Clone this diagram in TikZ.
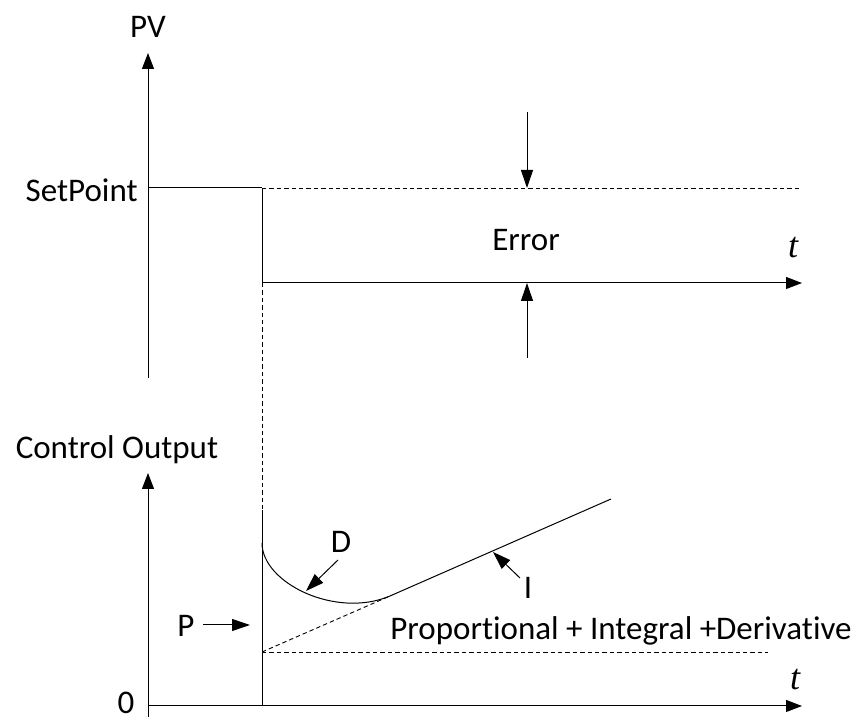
\documentclass[tikz,border=0pt]{standalone}
\usepackage{fontspec}
\setmainfont{Carlito}[Ligatures=NoCommon]
\newfontfamily\tfont{Liberation Serif}
\usetikzlibrary{arrows.meta}
\begin{document}
\begin{tikzpicture}[x=0.5pt,y=-0.5pt,
  ax/.style={line width=0.5pt,-{Triangle[length=8pt,width=6pt]}},
  ln/.style={line width=0.5pt},
  dsh/.style={line width=0.45pt,dash pattern=on 2.2pt off 1.5pt},
  lbl/.style={inner sep=0pt,anchor=base,font=\fontsize{16.5}{18}\selectfont},
  tl/.style={inner sep=0pt,anchor=base,font=\fontsize{18}{20}\selectfont\tfont\itshape},
  ptr/.style={line width=0.5pt,-{Triangle[length=9pt,width=6pt]}}]
\useasboundingbox (0,0) rectangle (859,727);
% upper axis
\coordinate (pvb) at (148,378);
\coordinate (pvt) at (148,53);
\draw[ax] (pvb) -- (pvt);
\node[lbl] (pv) at (148,38) {PV};
\node[lbl,anchor=base east] (sp) at (138,202) {SetPoint};
\coordinate (sp0) at (148,188);
\coordinate (sp1) at (262,188);
\coordinate (sp2) at (802,188);
\draw[ln] (sp0) -- (sp1);
\draw[dsh] (sp1) -- (sp2);
\coordinate (e0) at (262,283);
\coordinate (e1) at (802,283);
\draw[ax] (e0) -- (e1);
\draw[ln] (sp1) -- (e0);
\coordinate (v1) at (262,510);
\coordinate (v2) at (262,706);
\draw[dsh] (e0) -- (v1);
\draw[ln] (v1) -- (v2);
\node[tl] (t1) at (793,258) {t};
% error arrows
\coordinate (ea0) at (527,112);
\coordinate (ea1) at (527,188);
\draw[ptr] (ea0) -- (ea1);
\coordinate (eb0) at (527,358);
\coordinate (eb1) at (527,283);
\draw[ptr] (eb0) -- (eb1);
\node[lbl] (err) at (526,251) {Error};
% lower axes
\coordinate (cb) at (148,717);
\coordinate (ct) at (148,473);
\draw[ax] (cb) -- (ct);
\node[lbl] (co) at (117,459) {Control Output};
\coordinate (x0) at (148,706);
\coordinate (x1) at (802,706);
\draw[ax] (x0) -- (x1);
\node[lbl] (zero) at (126,714) {0};
\node[tl] (t2) at (795,690) {t};
% P level
\coordinate (p0) at (262,652);
\coordinate (p1) at (768,652);
\draw[dsh] (p0) -- (p1);
\coordinate (j) at (390,596);
\coordinate (ie) at (611,499);
\draw[dsh] (p0) -- (j);
\draw[ln] (j) -- (ie);
\coordinate (d0) at (262,543);
\draw[ln] (d0) .. controls (262,583) and (336,619) .. (j);
% labels with pointers
\node[lbl] (P) at (186,637) {P};
\coordinate (pa0) at (203,625);
\coordinate (pa1) at (250,625);
\draw[ptr] (pa0) -- (pa1);
\node[lbl] (D) at (341,553) {D};
\coordinate (da0) at (338,560);
\coordinate (da1) at (306,591);
\draw[ptr] (da0) -- (da1);
\node[lbl] (I) at (528,599) {I};
\coordinate (ia0) at (520,578);
\coordinate (ia1) at (493,552);
\draw[ptr] (ia0) -- (ia1);
\node[lbl] (pid) at (621,640) {Proportional + Integral +Derivative};
\end{tikzpicture}
\end{document}
